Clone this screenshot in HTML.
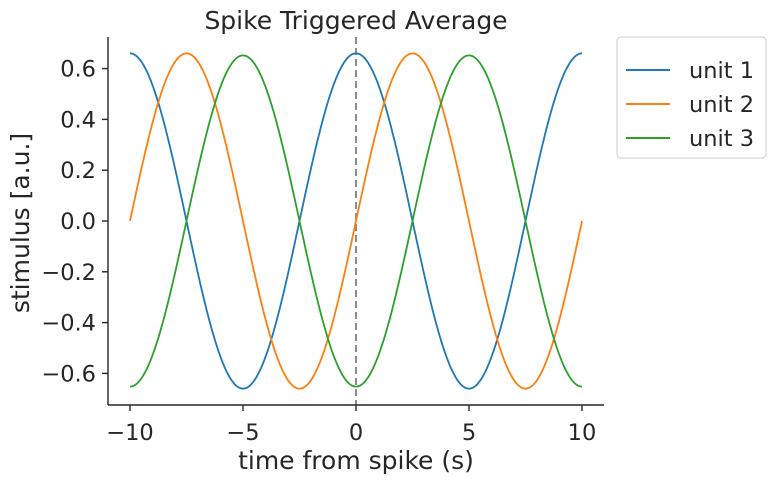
<!DOCTYPE html>
<html><head><meta charset="utf-8"><style>
body{margin:0;background:#fff;}
svg{display:block;font-family:"DejaVu Sans","Liberation Sans",sans-serif;fill:#262626;}
</style></head><body>
<svg id="s" width="774" height="482" viewBox="0 0 774 482">
<text x="356" y="29" font-size="25" text-anchor="middle">Spike Triggered Average</text>
<line x1="356" y1="37" x2="356" y2="405" stroke="#808080" stroke-width="1.8" stroke-dasharray="7,4"/>
<g id="series" fill="none" stroke-width="1.8"></g>
<line x1="108" y1="37" x2="108" y2="405" stroke="#262626" stroke-width="1.4"/>
<line x1="108" y1="405" x2="604" y2="405" stroke="#262626" stroke-width="1.4"/>
<g id="ticks" stroke="#262626" stroke-width="1.4"></g>
<g id="tl" font-size="22.5"></g>
<text x="356" y="469" font-size="25" text-anchor="middle">time from spike (s)</text>
<text transform="translate(29,223) rotate(-90)" font-size="25" text-anchor="middle">stimulus [a.u.]</text>
<rect x="617" y="37" width="149" height="121" rx="4" fill="#fff" stroke="#cccccc"/>
<line x1="626" y1="70" x2="670" y2="70" stroke="#1f77b4" stroke-width="2"/>
<line x1="626" y1="104" x2="670" y2="104" stroke="#ff7f0e" stroke-width="2"/>
<line x1="626" y1="138" x2="670" y2="138" stroke="#2ca02c" stroke-width="2"/>
<text x="689" y="78" font-size="22.5">unit 1</text>
<text x="689" y="112" font-size="22.5">unit 2</text>
<text x="689" y="146" font-size="22.5">unit 3</text>
</svg>
<script>
var X=t=>356+t*22.6, Y=v=>221-v*254;
var fs=[[t=>0.66*Math.cos(2*Math.PI*t/10),"#1f77b4"],[t=>0.66*Math.sin(2*Math.PI*t/10),"#ff7f0e"],[t=>-0.652*Math.cos(2*Math.PI*t/10),"#2ca02c"]];
var g=document.getElementById("series"),h="";
fs.forEach(f=>{var p=[];for(var i=0;i<=400;i++){var t=-10+i*0.05;p.push(X(t).toFixed(2)+","+Y(f[0](t)).toFixed(2));}
h+='<polyline points="'+p.join(" ")+'" stroke="'+f[1]+'"/>';});
g.innerHTML=h;
var tk="",tl="";
[-10,-5,0,5,10].forEach(t=>{var x=X(t);tk+='<line x1="'+x+'" y1="405" x2="'+x+'" y2="411"/>';
tl+='<text x="'+x+'" y="440" text-anchor="middle">'+(t<0?"\u2212"+(-t):t)+'</text>';});
[0.6,0.4,0.2,0,-0.2,-0.4,-0.6].forEach(v=>{var y=Y(v);tk+='<line x1="102" y1="'+y+'" x2="108" y2="'+y+'"/>';
var s=Math.abs(v).toFixed(1);tl+='<text x="96" y="'+(y+8)+'" text-anchor="end">'+(v<0?"\u2212"+s:s)+'</text>';});
document.getElementById("ticks").innerHTML=tk;document.getElementById("tl").innerHTML=tl;
</script>
</body></html>
